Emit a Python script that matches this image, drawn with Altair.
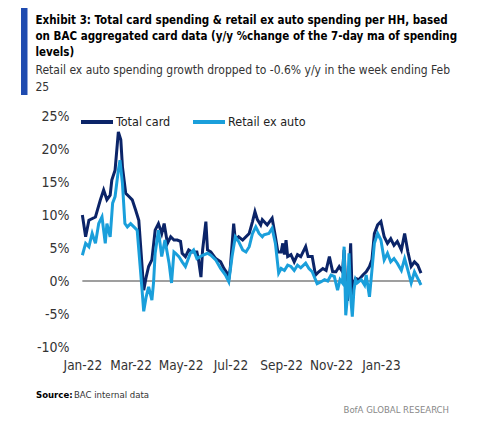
import altair as alt
import pandas as pd

total_dates = [
    "2022-01-01", "2022-01-05", "2022-01-09", "2022-01-17", "2022-01-23", "2022-01-27", "2022-01-31",
    "2022-02-04", "2022-02-06", "2022-02-10", "2022-02-14", "2022-02-17", "2022-02-19", "2022-02-23",
    "2022-02-27", "2022-03-03", "2022-03-07", "2022-03-11", "2022-03-13", "2022-03-15", "2022-03-17",
    "2022-03-20", "2022-03-23", "2022-03-27", "2022-03-31", "2022-04-04", "2022-04-08", "2022-04-11",
    "2022-04-15", "2022-04-19", "2022-04-23", "2022-04-27", "2022-05-01", "2022-05-03", "2022-05-07",
    "2022-05-11", "2022-05-15", "2022-05-21", "2022-05-23", "2022-05-26", "2022-05-28", "2022-06-01",
    "2022-06-03", "2022-06-07", "2022-06-13", "2022-06-19", "2022-06-23", "2022-06-27", "2022-06-29",
    "2022-07-01", "2022-07-05", "2022-07-07", "2022-07-11", "2022-07-16", "2022-07-24", "2022-07-28",
    "2022-07-31", "2022-08-03", "2022-08-07", "2022-08-09", "2022-08-15", "2022-08-21", "2022-08-25",
    "2022-08-28", "2022-09-01", "2022-09-03", "2022-09-05", "2022-09-07", "2022-09-09", "2022-09-13",
    "2022-09-17", "2022-09-21", "2022-09-25", "2022-10-01", "2022-10-04", "2022-10-09", "2022-10-13",
    "2022-10-17", "2022-10-22", "2022-10-26", "2022-10-30", "2022-11-03", "2022-11-07", "2022-11-11",
    "2022-11-15", "2022-11-17", "2022-11-19", "2022-11-21", "2022-11-23", "2022-11-25", "2022-11-27",
    "2022-11-29", "2022-12-01", "2022-12-05", "2022-12-10", "2022-12-14", "2022-12-18", "2022-12-21",
    "2022-12-24", "2022-12-28", "2023-01-01", "2023-01-05", "2023-01-09", "2023-01-13", "2023-01-17",
    "2023-01-21", "2023-01-26", "2023-01-30", "2023-02-03", "2023-02-07", "2023-02-11", "2023-02-15",
    "2023-02-19",
]
total_values = [
    10.0, 6.7, 9.2, 9.7, 12.3, 13.8, 12.3,
    13.0, 15.3, 16.8, 22.6, 21.4, 17.3, 13.3,
    12.8, 12.3, 10.8, 9.2, 5.7, 2.2, -1.4,
    0.6, 2.2, 3.2, 7.7, 8.7, 7.2, 8.7,
    5.7, 6.7, 6.2, 6.2, 6.0, 4.2, 3.7,
    4.7, 4.4, 4.4, 3.2, 0.6, 4.7, 9.0,
    4.7, 4.4, 3.4, 2.9, 1.9, 1.2, 0.2,
    2.2, 8.7, 6.2, 6.7, 6.2, 7.2, 9.0,
    10.5, 9.3, 8.5, 9.3, 8.5, 9.5, 6.7,
    4.4, 4.4, 5.7, 4.0, 6.2, 3.7, 4.0,
    2.9, 4.0, 3.7, 5.2, 3.7, 3.7, 0.9,
    1.4, 1.9, 1.6, 3.7, 1.4, 1.4, 2.2,
    1.4, 4.7, -0.9, -3.0, 0.2, 5.7, -2.9,
    -0.3, 0.4, 0.2, 0.9, 1.4, 2.2, 3.2,
    7.2, 8.5, 9.0, 6.7, 5.7, 6.4, 5.4,
    6.0, 4.7, 7.2, 4.4, 2.2, 2.9, 2.4,
    1.2,
]

retail_dates = [
    "2022-01-01", "2022-01-05", "2022-01-09", "2022-01-13", "2022-01-17", "2022-01-21", "2022-01-25",
    "2022-01-29", "2022-01-31", "2022-02-04", "2022-02-07", "2022-02-10", "2022-02-14", "2022-02-16",
    "2022-02-19", "2022-02-22", "2022-02-25", "2022-03-01", "2022-03-05", "2022-03-09", "2022-03-13",
    "2022-03-15", "2022-03-17", "2022-03-20", "2022-03-23", "2022-03-27", "2022-03-29", "2022-03-31",
    "2022-04-04", "2022-04-08", "2022-04-12", "2022-04-17", "2022-04-20", "2022-04-23", "2022-04-25",
    "2022-04-29", "2022-05-03", "2022-05-07", "2022-05-13", "2022-05-17", "2022-05-21", "2022-05-28",
    "2022-06-03", "2022-06-07", "2022-06-13", "2022-06-19", "2022-06-25", "2022-06-29", "2022-07-03",
    "2022-07-07", "2022-07-11", "2022-07-16", "2022-07-20", "2022-07-24", "2022-07-28", "2022-08-01",
    "2022-08-05", "2022-08-09", "2022-08-11", "2022-08-17", "2022-08-21", "2022-08-25", "2022-08-29",
    "2022-09-01", "2022-09-05", "2022-09-09", "2022-09-13", "2022-09-17", "2022-09-21", "2022-09-25",
    "2022-10-01", "2022-10-05", "2022-10-09", "2022-10-15", "2022-10-20", "2022-10-24", "2022-10-28",
    "2022-11-01", "2022-11-05", "2022-11-09", "2022-11-12", "2022-11-15", "2022-11-17", "2022-11-19",
    "2022-11-21", "2022-11-23", "2022-11-25", "2022-11-27", "2022-11-29", "2022-12-01", "2022-12-03",
    "2022-12-08", "2022-12-12", "2022-12-14", "2022-12-18", "2022-12-21", "2022-12-24", "2022-12-28",
    "2023-01-01", "2023-01-05", "2023-01-09", "2023-01-13", "2023-01-17", "2023-01-21", "2023-01-26",
    "2023-01-30", "2023-02-03", "2023-02-07", "2023-02-11", "2023-02-15", "2023-02-19",
]
retail_values = [
    3.9, 5.7, 5.2, 7.2, 5.7, 8.7, 9.7,
    5.7, 8.7, 6.7, 11.8, 12.8, 16.8, 18.3,
    14.8, 8.7, 8.2, 8.7, 8.2, 7.7, 1.7,
    -1.4, -4.6, -2.4, -0.9, -2.9, -0.3, 4.2,
    7.7, 3.7, 6.2, 2.7, -0.3, 4.4, 4.2,
    3.7, 2.9, 2.2, 4.2, 4.7, 3.4, 3.9,
    4.2, 3.9, 3.2, 1.9, 0.9, -0.1, 3.7,
    6.7, 6.0, 4.7, 4.4, 5.2, 7.2, 8.2,
    7.2, 6.7, 7.0, 7.2, 8.0, 5.7, 1.2,
    1.9, 1.6, 2.4, 2.2, 1.6, 2.4, 2.0,
    2.7, 1.9, 1.4, -0.4, -0.1, 0.2, 0.0,
    0.9, 0.7, -1.4, 0.2, -0.3, 5.2, -5.2,
    -2.4, 4.2, -2.4, -5.4, -1.4, 0.2, -0.3,
    0.2, -0.6, 0.9, -2.4, 1.6, 5.7, 7.2,
    6.2, 3.2, 4.2, 2.9, 3.4, 2.7, 1.6,
    3.4, 1.6, -0.3, 1.4, 0.4, -0.6,
]

series_names = ["Total card", "Retail ex auto"]
series_colors = ["#0B2468", "#1A9FDB"]
y_ticks = [-10, -5, 0, 5, 10, 15, 20, 25]
x_tick_months = [(2022, 1), (2022, 3), (2022, 5), (2022, 7), (2022, 9), (2022, 11), (2023, 1)]
zero_span = ["2022-01-01", "2023-02-19"]

title_text = ("Exhibit 3: Total card spending & retail ex auto spending per HH, based\n"
              "on BAC aggregated card data (y/y  %change of the 7-day ma of spending\n"
              "levels)")
subtitle_text = ("Retail ex auto spending growth dropped to -0.6% y/y in the week ending Feb\n"
                 "25")
source_label = "Source:"
source_text = "BAC internal data"
brand_text = "BofA GLOBAL RESEARCH"

FONT = "Liberation Sans Narrow, DejaVu Sans Condensed, Roboto Condensed, Roboto, sans-serif"

df_total = pd.DataFrame({"date": total_dates, "value": total_values, "series": series_names[0]})
df_retail = pd.DataFrame({"date": retail_dates, "value": retail_values, "series": series_names[1]})
df_zero = pd.DataFrame({"date": [zero_span[0]], "end": [zero_span[1]], "value": [0]})

x_scale = alt.Scale(
    type="utc",
    domain=[alt.DateTime(year=2021, month=12, date=23, utc=True),
            alt.DateTime(year=2023, month=3, date=2, utc=True)],
)
x_axis = alt.Axis(
    title=None,
    values=[alt.DateTime(year=y, month=m, date=1, utc=True) for y, m in x_tick_months],
    format="%b-%y", labelOverlap=False,
    domain=False, ticks=False, grid=False,
    labelFontSize=13.5, labelFont=FONT, labelColor="#333", labelPadding=11,
)
y_scale = alt.Scale(domain=[-10, 25], nice=False, zero=False)
y_axis = alt.Axis(
    title=None, values=y_ticks, labelExpr="datum.value + '%'", labelOverlap=False,
    domain=False, ticks=False, grid=False,
    labelFontSize=14, labelFont=FONT, labelColor="#333", labelPadding=6,
)
x_enc = alt.X("date:T", scale=x_scale, axis=x_axis)
y_enc = alt.Y("value:Q", scale=y_scale, axis=y_axis)
color_enc = alt.Color(
    "series:N",
    scale=alt.Scale(domain=series_names, range=series_colors),
    legend=alt.Legend(
        title=None, orient="none", legendX=4, legendY=-12, direction="horizontal",
        symbolType="stroke", symbolSize=1024, symbolStrokeWidth=4,
        labelFontSize=12.5, labelFont=FONT, labelColor="#222", labelOffset=1,
        columnPadding=14,
    ),
)

zero_rule = alt.Chart(df_zero).mark_rule(color="#7F7F7F", strokeWidth=1.5).encode(
    x=x_enc, x2="end:T", y=y_enc
)
line_total = alt.Chart(df_total).mark_line(strokeWidth=3).encode(x=x_enc, y=y_enc, color=color_enc)
line_retail = alt.Chart(df_retail).mark_line(strokeWidth=3).encode(x=x_enc, y=y_enc, color=color_enc)

bar = alt.Chart(pd.DataFrame({"k": [0]})).mark_rect(color="#1F4BB0").encode(
    x=alt.value(-54), x2=alt.value(-47.5), y=alt.value(-111), y2=alt.value(-21)
)
title_mark = alt.Chart(pd.DataFrame({"t": [title_text]})).mark_text(
    font=FONT, fontSize=11.5, fontWeight="bold", align="left", baseline="alphabetic",
    color="#000", lineBreak="\n", lineHeight=16,
).encode(x=alt.value(-39.5), y=alt.value(-92.5), text="t:N")
subtitle_mark = alt.Chart(pd.DataFrame({"t": [subtitle_text]})).mark_text(
    font=FONT, fontSize=12, align="left", baseline="alphabetic",
    color="#333", lineBreak="\n", lineHeight=16.5,
).encode(x=alt.value(-39.5), y=alt.value(-42), text="t:N")
src_bold = alt.Chart(pd.DataFrame({"t": [source_label]})).mark_text(
    font=FONT, fontSize=9.5, fontWeight="bold", align="left", color="#000"
).encode(x=alt.value(-39), y=alt.value(279), text="t:N")
src_text = alt.Chart(pd.DataFrame({"t": [source_text]})).mark_text(
    font=FONT, fontSize=9.5, align="left", color="#333"
).encode(x=alt.value(-1), y=alt.value(279), text="t:N")
brand = alt.Chart(pd.DataFrame({"t": [brand_text]})).mark_text(
    font=FONT, fontSize=9.5, align="right", color="#888"
).encode(x=alt.value(374), y=alt.value(294), text="t:N")

chart = alt.layer(
    zero_rule, line_total, line_retail, bar, title_mark, subtitle_mark, src_bold, src_text, brand
).properties(
    width=355,
    height=231,
    autosize=alt.AutoSizeParams(type="none"),
    padding={"left": 67, "top": 108, "right": 60, "bottom": 75},
).configure_view(stroke=None)

chart.save("out.html", embed_options={"renderer": "svg", "actions": False})
